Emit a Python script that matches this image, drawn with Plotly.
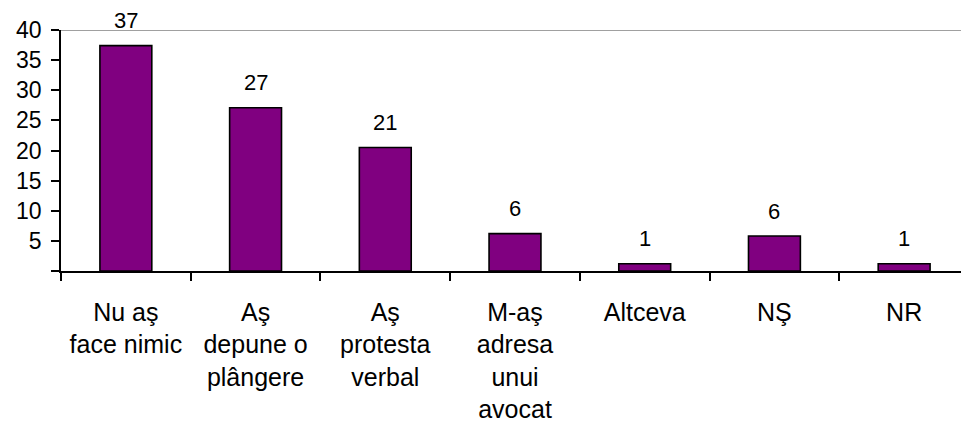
import plotly.graph_objects as go

categories = ["Nu aş<br>face nimic", "Aş<br>depune o<br>plângere", "Aş<br>protesta<br>verbal",
              "M-aş<br>adresa<br>unui<br>avocat", "Altceva", "NŞ", "NR"]
values = [37.4, 27.1, 20.5, 6.2, 1.2, 5.8, 1.2]
labels = ["37", "27", "21", "6", "1", "6", "1"]
y_ticks = [0, 5, 10, 15, 20, 25, 30, 35, 40]
y_ticktext = ["", "5", "10", "15", "20", "25", "30", "35", "40"]

FONT = "Liberation Sans, Arial, sans-serif"

fig = go.Figure()
fig.add_trace(go.Bar(
    x=categories, y=values, width=0.4,
    marker=dict(color="#800080", line=dict(color="#000000", width=1.6)),
    hoverinfo="skip",
))

for c, v, t in zip(categories, values, labels):
    fig.add_annotation(x=c, y=v, text=t, showarrow=False, yanchor="middle",
                       yshift=25, borderpad=0,
                       font=dict(family=FONT, size=22, color="#000000"))

fig.add_shape(type="line", xref="paper", yref="y", x0=0, x1=1, y0=40, y1=40,
              line=dict(color="#808080", width=1.5))

fig.update_layout(
    width=961, height=415,
    margin=dict(l=53, r=0, t=22, b=152),
    paper_bgcolor="white", plot_bgcolor="white",
    showlegend=False,
    font=dict(family=FONT, color="#000000"),
    xaxis=dict(
        type="category", range=[-0.5, 6.5],
        showline=True, linecolor="#000000", linewidth=1.6,
        ticks="outside", tickson="boundaries", ticklen=8, tickwidth=1.6, tickcolor="#000000",
        showgrid=False, zeroline=False,
        tickfont=dict(family=FONT, size=25, color="#000000"),
        ticklabelstandoff=18,
    ),
    yaxis=dict(
        range=[0, 40], tickmode="array", tickvals=y_ticks, ticktext=y_ticktext,
        showline=True, linecolor="#000000", linewidth=1.6,
        ticks="outside", ticklen=8, tickwidth=1.6, tickcolor="#000000",
        showgrid=False, zeroline=False,
        tickfont=dict(family=FONT, size=23, color="#000000"),
        ticklabelstandoff=5,
    ),
)

fig.write_html("out.html")
